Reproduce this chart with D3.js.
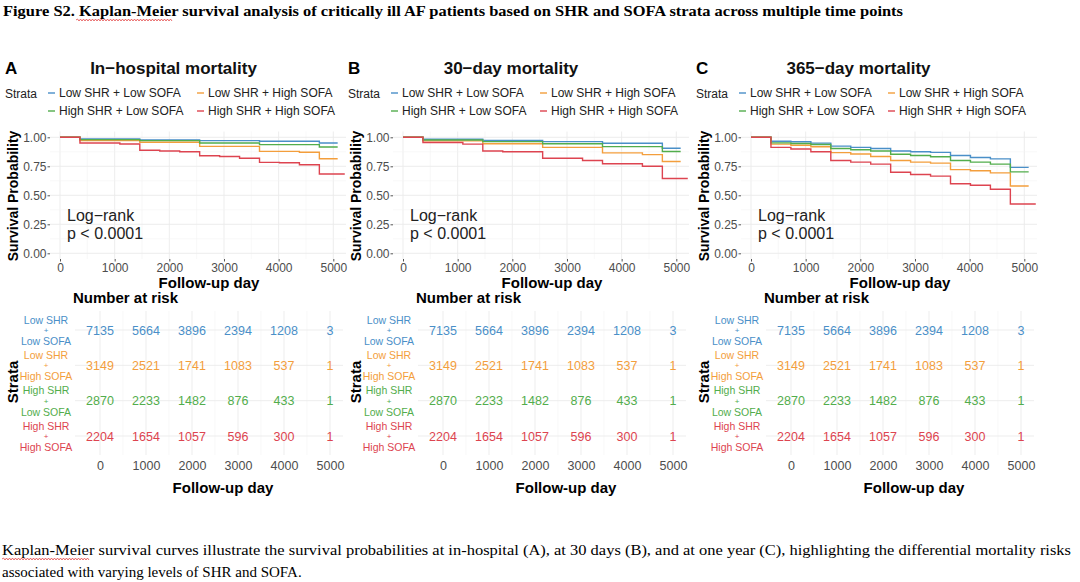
<!DOCTYPE html>
<html><head><meta charset="utf-8">
<script src="https://cdn.jsdelivr.net/npm/d3@7"></script>
<style>body{margin:0;background:#fff}svg{display:block}</style>
</head><body><svg id="c" width="1080" height="582"></svg>
<script>
// ---------- data ----------
const figureTitle = "Figure S2. Kaplan-Meier survival analysis of critically ill AF patients based on SHR and SOFA strata across multiple time points";
const captionLines = [
  "Kaplan-Meier survival curves illustrate the survival probabilities at in-hospital (A), at 30 days (B), and at one year (C), highlighting the differential mortality risks",
  "associated with varying levels of SHR and SOFA."
];
const panelLetters = ["A", "B", "C"];
const panelTitles = ["In\u2212hospital mortality", "30\u2212day mortality", "365\u2212day mortality"];
const strata = ["Low SHR + Low SOFA", "Low SHR + High SOFA", "High SHR + Low SOFA", "High SHR + High SOFA"];
const strataShort = [["Low SHR", "Low SOFA"], ["Low SHR", "High SOFA"], ["High SHR", "Low SOFA"], ["High SHR", "High SOFA"]];
const strataColors = ["#4A8FC8", "#F39E3C", "#52AD4C", "#DD4450"];
const stepDays = [0, 365, 730, 1095, 1460, 1825, 2190, 2555, 2920, 3285, 3650, 4015, 4380, 4745];
const endDays = [5080, 5080, 5080, 5210];
const survA = [
  [1, .985, .985, .985, .977, .977, .977, .971, .971, .971, .966, .966, .966, .951],
  [1, .971, .971, .971, .957, .957, .957, .922, .922, .922, .879, .879, .871, .815],
  [1, .980, .980, .980, .971, .971, .971, .951, .951, .951, .937, .937, .937, .916],
  [1, .951, .951, .942, .888, .882, .876, .841, .835, .820, .784, .780, .764, .684]
];
const survB = [
  [1, .983, .983, .983, .972, .972, .972, .963, .963, .963, .949, .949, .949, .905],
  [1, .969, .969, .969, .944, .944, .944, .913, .913, .913, .866, .866, .851, .792],
  [1, .977, .977, .977, .963, .963, .963, .944, .944, .944, .920, .920, .920, .877],
  [1, .955, .955, .941, .882, .876, .876, .820, .820, .800, .772, .772, .750, .645]
];
const survC = [
  [1, .966, .961, .950, .924, .913, .904, .882, .876, .870, .843, .826, .814, .741],
  [1, .941, .932, .918, .868, .856, .834, .800, .786, .777, .721, .712, .693, .580],
  [1, .952, .947, .938, .904, .893, .882, .854, .843, .832, .800, .786, .769, .702],
  [1, .913, .899, .876, .800, .786, .769, .699, .679, .665, .600, .586, .552, .425]
];
const riskDays = [0, 1000, 2000, 3000, 4000, 5000];
const riskCounts = [
  [7135, 5664, 3896, 2394, 1208, 3],
  [3149, 2521, 1741, 1083, 537, 1],
  [2870, 2233, 1482, 876, 433, 1],
  [2204, 1654, 1057, 596, 300, 1]
];
const yTicks = [0, 0.25, 0.5, 0.75, 1];
const xTicks = [0, 1000, 2000, 3000, 4000, 5000];
const pValueText = ["Log\u2212rank", "p < 0.0001"];

// ---------- layout ----------
const SANS = "'Liberation Sans', Arial, Helvetica, sans-serif";
const SERIF = "'Liberation Serif', 'Times New Roman', serif";
const svg = d3.select("#c");
const survAll = [survA, survB, survC];
const offsets = [0, 343, 691];
const titleCenters = [173.5, 511, 858.5];

function wavy(g, x0, x1, y) {
  let d = `M${x0},${y}`;
  let up = true;
  for (let x = x0 + 1.5; x <= x1; x += 1.5) { d += `L${x},${y + (up ? -1 : 1)}`; up = !up; }
  g.append("path").attr("d", d).attr("fill", "none").attr("stroke", "#e03030").attr("stroke-width", 0.7);
}

// figure title
svg.append("text").attr("x", 3).attr("y", 16).attr("font-family", SERIF).attr("font-weight", "bold")
  .attr("font-size", 15.5).attr("fill", "#000").attr("textLength", 900).attr("lengthAdjust", "spacingAndGlyphs").text(figureTitle);
wavy(svg, 76, 172, 20);

// caption
captionLines.forEach((t, i) => {
  const tx = svg.append("text").attr("x", 2).attr("y", 555 + i * 22).attr("font-family", SERIF)
    .attr("font-size", 15).attr("fill", "#000").text(t);
  if (i === 0) tx.attr("textLength", 1069).attr("lengthAdjust", "spacingAndGlyphs");
});
wavy(svg, 2, 90, 559);

panelLetters.forEach((letter, pi) => {
  const ox = offsets[pi];
  const g = svg.append("g").attr("transform", `translate(${ox},0)`);
  const surv = survAll[pi];

  // header
  g.append("text").attr("x", 5).attr("y", 74).attr("font-family", SANS).attr("font-weight", "bold")
    .attr("font-size", 17).text(letter);
  g.append("text").attr("x", titleCenters[pi] - ox).attr("y", 74).attr("text-anchor", "middle").attr("font-family", SANS)
    .attr("font-weight", "bold").attr("font-size", 17).attr("fill", "#111").text(panelTitles[pi]);

  // legend
  g.append("text").attr("x", 5).attr("y", 97.5).attr("font-family", SANS).attr("font-size", 12)
    .attr("fill", "#222").text("Strata");
  strata.forEach((s, si) => {
    const col = si % 2, row = Math.floor(si / 2);
    const kx = col === 0 ? 48 : 197, ty = 93 + row * 18;
    g.append("line").attr("x1", kx).attr("x2", kx + 7).attr("y1", ty).attr("y2", ty)
      .attr("stroke", strataColors[si]).attr("stroke-width", 1.4);
    g.append("text").attr("x", kx + 11).attr("y", ty + 4.2).attr("font-family", SANS).attr("font-size", 12)
      .attr("fill", "#222").text(s);
  });

  // KM plot
  const x = d3.scaleLinear().domain([0, 5000]).range([60, 333.3]);
  const y = d3.scaleLinear().domain([0, 1]).range([253.3, 137.3]);
  const px0 = 50, px1 = 346, py0 = 131.5, py1 = 259;
  const grid = g.append("g");
  d3.range(0, 5001, 500).forEach(d => {
    grid.append("line").attr("x1", x(d)).attr("x2", x(d)).attr("y1", py0).attr("y2", py1)
      .attr("stroke", d % 1000 === 0 ? "#ebebeb" : "#f4f4f4").attr("stroke-width", d % 1000 === 0 ? 0.9 : 0.6);
  });
  d3.range(0, 1.01, 0.125).forEach(v => {
    const major = Math.abs(v * 4 - Math.round(v * 4)) < 1e-6;
    grid.append("line").attr("x1", px0).attr("x2", px1).attr("y1", y(v)).attr("y2", y(v))
      .attr("stroke", major ? "#ebebeb" : "#f4f4f4").attr("stroke-width", major ? 0.9 : 0.6);
  });

  const line = d3.line().x(d => x(d[0])).y(d => y(d[1])).curve(d3.curveStepAfter);
  surv.forEach((vals, si) => {
    const pts = stepDays.map((d, k) => [d, vals[k]]);
    pts.push([endDays[si], vals[vals.length - 1]]);
    g.append("path").datum(pts).attr("d", line).attr("fill", "none")
      .attr("stroke", strataColors[si]).attr("stroke-width", 1.4);
  });

  // y axis
  const yAxis = d3.axisLeft(y).tickValues(yTicks).tickFormat(d3.format(".2f")).tickSize(2.5).tickPadding(1);
  const ya = g.append("g").attr("transform", `translate(${px0},0)`).call(yAxis);
  ya.select(".domain").remove();
  ya.selectAll("line").attr("stroke", "#555");
  ya.selectAll("text").attr("font-family", SANS).attr("font-size", 12).attr("fill", "#4d4d4d");
  g.append("text").attr("transform", "translate(18,196) rotate(-90)").attr("text-anchor", "middle")
    .attr("font-family", SANS).attr("font-weight", "bold").attr("font-size", 14).text("Survival Probability");

  // x axis
  const xAxis = d3.axisBottom(x).tickValues(xTicks).tickFormat(d3.format("d")).tickSize(2.5).tickPadding(2);
  const xa = g.append("g").attr("transform", `translate(0,${py1})`).call(xAxis);
  xa.select(".domain").remove();
  xa.selectAll("line").attr("stroke", "#555");
  xa.selectAll("text").attr("font-family", SANS).attr("font-size", 12).attr("fill", "#4d4d4d");
  g.append("text").attr("x", 209).attr("y", 288).attr("text-anchor", "middle").attr("font-family", SANS)
    .attr("font-weight", "bold").attr("font-size", 15).text("Follow-up day");

  // p value
  pValueText.forEach((t, i) => {
    g.append("text").attr("x", 67).attr("y", 221 + i * 18).attr("font-family", SANS).attr("font-size", 16)
      .attr("fill", "#222").text(t);
  });

  // risk table
  g.append("text").attr("x", 73).attr("y", 303).attr("font-family", SANS).attr("font-weight", "bold")
    .attr("font-size", 15).text("Number at risk");
  const tx = d3.scaleLinear().domain([0, 5000]).range([100, 330]);
  const ty = d3.scalePoint().domain(strata).range([330, 436]);
  const tg = g.append("g");
  d3.range(0, 5001, 500).forEach(d => {
    tg.append("line").attr("x1", tx(d)).attr("x2", tx(d)).attr("y1", 311).attr("y2", 455)
      .attr("stroke", d % 1000 === 0 ? "#ebebeb" : "#f4f4f4").attr("stroke-width", d % 1000 === 0 ? 0.9 : 0.6);
  });
  strata.forEach(s => {
    tg.append("line").attr("x1", 75).attr("x2", 343).attr("y1", ty(s)).attr("y2", ty(s))
      .attr("stroke", "#ebebeb").attr("stroke-width", 0.9);
  });
  strata.forEach((s, si) => {
    riskDays.forEach((d, k) => {
      g.append("text").attr("x", tx(d)).attr("y", ty(s) + 4.5).attr("text-anchor", "middle")
        .attr("font-family", SANS).attr("font-size", 12.5).attr("fill", strataColors[si]).text(riskCounts[si][k]);
    });
    const lbl = g.append("text").attr("text-anchor", "middle").attr("font-family", SANS)
      .attr("font-size", 10.5).attr("fill", strataColors[si]);
    lbl.append("tspan").attr("x", 46).attr("y", ty(s) - 6.5).text(strataShort[si][0]);
    lbl.append("tspan").attr("x", 46).attr("y", ty(s) + 3).attr("font-size", 8).text("+");
    lbl.append("tspan").attr("x", 46).attr("y", ty(s) + 15).text(strataShort[si][1]);
  });
  g.append("text").attr("transform", "translate(17.5,382) rotate(-90)").attr("text-anchor", "middle")
    .attr("font-family", SANS).attr("font-weight", "bold").attr("font-size", 15).text("Strata");
  const txa = g.append("g").attr("transform", "translate(0,455)")
    .call(d3.axisBottom(tx).tickValues(riskDays).tickFormat(d3.format("d")).tickSize(0).tickPadding(6));
  txa.select(".domain").remove();
  txa.selectAll("text").attr("font-family", SANS).attr("font-size", 12.5).attr("fill", "#4d4d4d");
  g.append("text").attr("x", 223).attr("y", 493).attr("text-anchor", "middle").attr("font-family", SANS)
    .attr("font-weight", "bold").attr("font-size", 15).text("Follow-up day");
});
</script>
</body></html>
